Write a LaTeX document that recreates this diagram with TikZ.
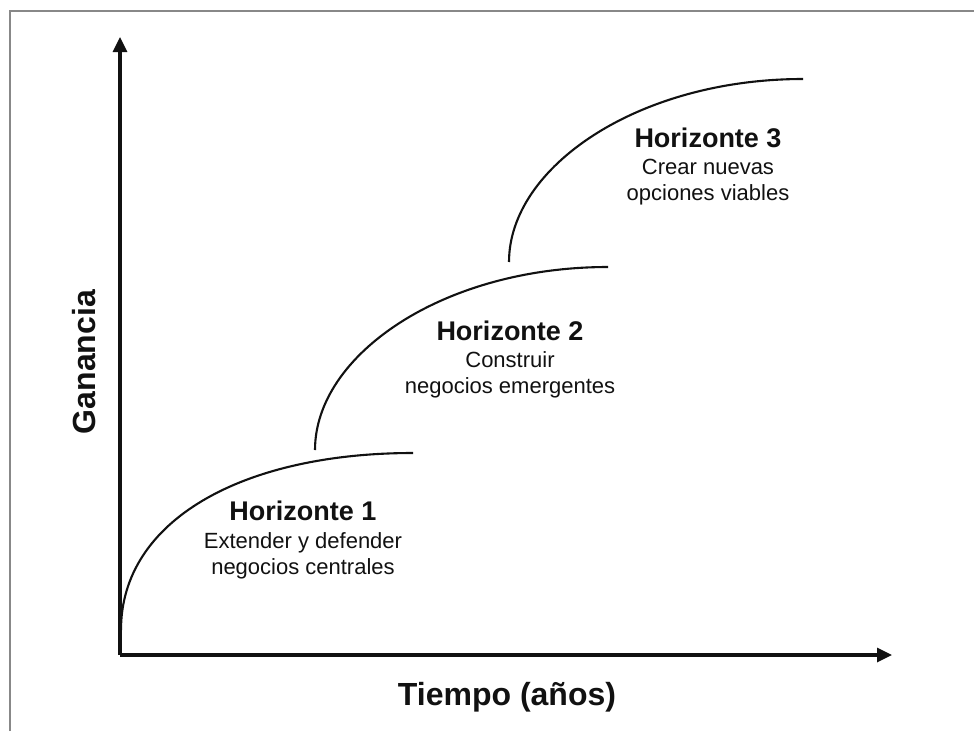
\documentclass[tikz,border=0pt]{standalone}
\usepackage{fontspec}
\setmainfont{Liberation Sans}
\usetikzlibrary{arrows.meta,calc}
\definecolor{ink}{HTML}{111111}
\definecolor{frame}{HTML}{888888}
\tikzset{
  axis/.style={line width=3.2pt, draw=ink, -{Triangle[length=15pt,width=14pt]}},
  curve/.style={line width=2.1pt, draw=ink},
  ttl/.style={anchor=base, inner sep=0pt, text=ink, font=\fontsize{27}{30}\selectfont\bfseries},
  dsc/.style={anchor=base, inner sep=0pt, text=ink, font=\fontsize{22}{26}\selectfont},
  axlbl/.style={inner sep=0pt, text=ink, font=\fontsize{32}{36}\selectfont\bfseries},
}
\begin{document}
\begin{tikzpicture}[x=1pt,y=-1pt]
\useasboundingbox (0,0) rectangle (974,731);
% frame
\draw[frame, line width=2pt] (10,731) -- (10,11) -- (974,11);
% axes
\coordinate (o) at (120,655);
\coordinate (ytip) at (120,37);
\coordinate (xtip) at (892,655);
\draw[axis] (o) -- (ytip);
\draw[axis] (o) -- (xtip);
% curves
\coordinate (s1) at (121,630); \coordinate (e1) at (413,453);
\coordinate (s2) at (315,450); \coordinate (e2) at (608,267);
\coordinate (s3) at (509,262); \coordinate (e3) at (803,79);
\draw[curve] (s1) .. controls ($(s1)+(0,-110)$) and ($(e1)+(-170,0)$) .. (e1);
\draw[curve] (s2) .. controls ($(s2)+(0,-95)$) and ($(e2)+(-165,0)$) .. (e2);
\draw[curve] (s3) .. controls ($(s3)+(0,-95)$) and ($(e3)+(-165,0)$) .. (e3);
% labels
\node[ttl] (h1t) at (303,520) {Horizonte 1};
\node[dsc] (h1a) at (303,548) {Extender y defender};
\node[dsc] (h1b) at (303,574) {negocios centrales};
\node[ttl] (h2t) at (510,340) {Horizonte 2};
\node[dsc] (h2a) at (510,367) {Construir};
\node[dsc] (h2b) at (510,393) {negocios emergentes};
\node[ttl] (h3t) at (708,147) {Horizonte 3};
\node[dsc] (h3a) at (708,174) {Crear nuevas};
\node[dsc] (h3b) at (708,200) {opciones viables};
\node[axlbl] (xl) at (507,697) {Tiempo (años)};
\node[axlbl, rotate=90] (yl) at (84,362) {Ganancia};
\end{tikzpicture}
\end{document}
